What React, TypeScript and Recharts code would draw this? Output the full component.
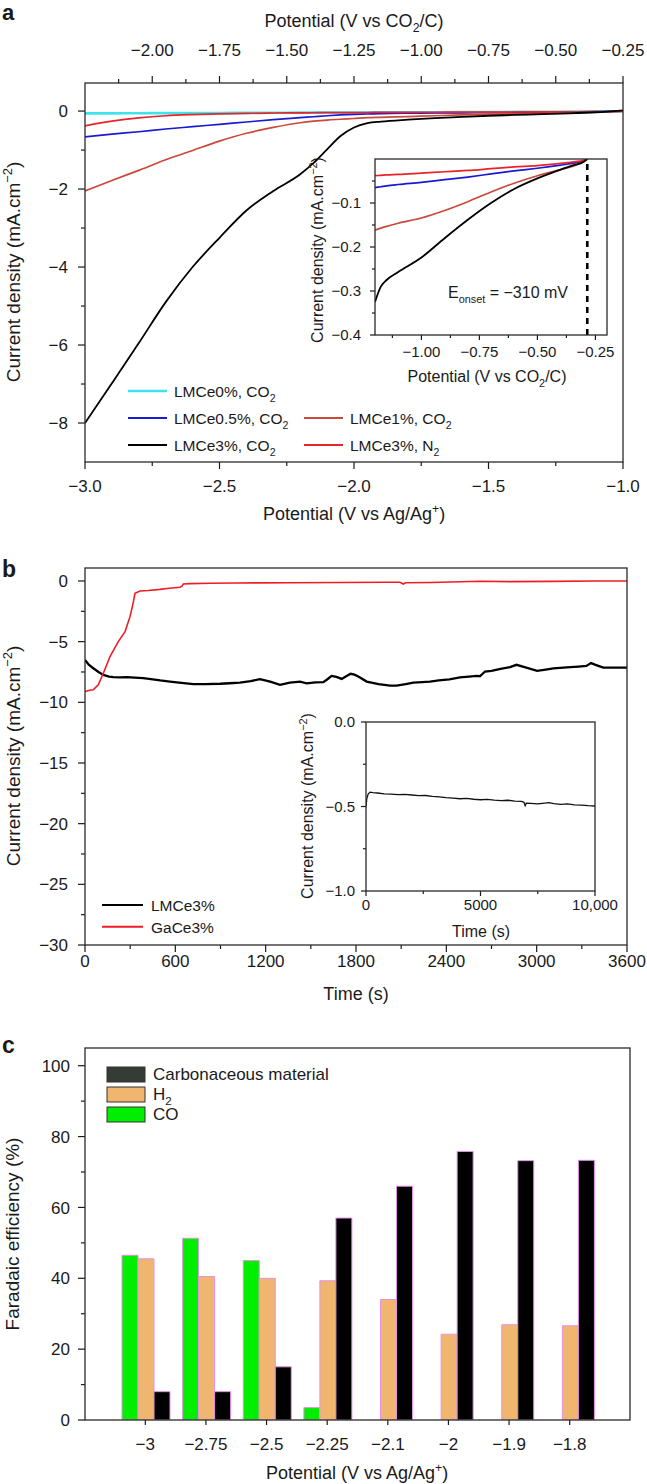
import React from "react";
import { LineChart, Line, BarChart, Bar, XAxis, YAxis, ReferenceLine } from "recharts";

// ---------- panel a : LSV curves ----------
const potentialAg = [-3.0, -2.9, -2.8, -2.7, -2.6, -2.5, -2.4, -2.3, -2.2, -2.15, -2.1, -2.05, -2.0, -1.95, -1.9, -1.8, -1.7, -1.6, -1.5, -1.4, -1.3, -1.2, -1.1, -1.0];
const lmce0Co2 = [-0.06, -0.058, -0.055, -0.052, -0.05, -0.048, -0.045, -0.043, -0.04, -0.039, -0.038, -0.037, -0.036, -0.035, -0.034, -0.032, -0.03, -0.027, -0.024, -0.021, -0.018, -0.014, -0.01, -0.005];
const lmce05Co2 = [-0.66, -0.59, -0.53, -0.46, -0.4, -0.34, -0.28, -0.22, -0.17, -0.145, -0.12, -0.1, -0.085, -0.075, -0.065, -0.055, -0.05, -0.045, -0.04, -0.035, -0.03, -0.025, -0.015, 0.0];
const lmce1Co2 = [-2.05, -1.78, -1.52, -1.25, -1.01, -0.77, -0.57, -0.42, -0.3, -0.26, -0.23, -0.21, -0.19, -0.17, -0.16, -0.14, -0.12, -0.1, -0.085, -0.07, -0.055, -0.04, -0.025, -0.01];
const lmce3N2 = [-0.38, -0.26, -0.175, -0.12, -0.09, -0.07, -0.06, -0.05, -0.045, -0.043, -0.04, -0.04, -0.038, -0.036, -0.035, -0.033, -0.03, -0.028, -0.026, -0.024, -0.022, -0.02, -0.015, -0.005];
const lmce3Co2 = [-8.0, -6.98, -5.95, -4.9, -4.0, -3.25, -2.55, -2.05, -1.62, -1.33, -0.98, -0.64, -0.42, -0.31, -0.27, -0.22, -0.18, -0.15, -0.12, -0.1, -0.08, -0.06, -0.03, 0.02];
// V vs CO2/C = V vs Ag/Ag+ + 0.75
const agToCo2 = 0.75;

const agTicks = [-3, -2.75, -2.5, -2.25, -2, -1.75, -1.5, -1.25, -1];
const agMajors = [-3, -2.5, -2, -1.5, -1];
const co2Ticks = [-2.125, -2, -1.875, -1.75, -1.625, -1.5, -1.375, -1.25, -1.125, -1, -0.875, -0.75, -0.625, -0.5, -0.375, -0.25];
const co2Majors = [-2, -1.75, -1.5, -1.25, -1, -0.75, -0.5, -0.25];
const curATicks = [0, -1, -2, -3, -4, -5, -6, -7, -8];
const curAMajors = [0, -2, -4, -6, -8];

// inset of a
const potentialCo2 = [-1.2, -1.175, -1.15, -1.1, -1.0, -0.9, -0.8, -0.7, -0.6, -0.5, -0.4, -0.35, -0.3, -0.285];
const insetCe05 = [-0.065, -0.063, -0.061, -0.058, -0.053, -0.047, -0.041, -0.034, -0.027, -0.021, -0.014, -0.01, -0.004, 0];
const insetCe1 = [-0.162, -0.157, -0.153, -0.146, -0.134, -0.117, -0.097, -0.075, -0.055, -0.038, -0.024, -0.017, -0.006, 0];
const insetN2 = [-0.038, -0.037, -0.036, -0.035, -0.032, -0.029, -0.026, -0.022, -0.018, -0.015, -0.01, -0.007, -0.003, 0];
const insetCe3 = [-0.325, -0.29, -0.275, -0.257, -0.224, -0.18, -0.138, -0.1, -0.068, -0.044, -0.024, -0.015, -0.006, 0];
const onsetPotential = -0.285;
const insetATicksX = [-1.125, -1, -0.875, -0.75, -0.625, -0.5, -0.375, -0.25];
const insetAMajorsX = [-1, -0.75, -0.5, -0.25];
const insetATicksY = [-0.05, -0.1, -0.15, -0.2, -0.25, -0.3, -0.35, -0.4];
const insetAMajorsY = [-0.1, -0.2, -0.3, -0.4];

// ---------- panel b : chronoamperometry ----------
const timeLM = [0, 25, 55, 90, 122, 160, 188, 230, 277, 330, 387, 450, 500, 564, 640, 720, 800, 897, 960, 1029, 1100, 1162, 1230, 1295, 1361, 1428, 1472, 1530, 1583, 1610, 1638, 1670, 1705, 1735, 1764, 1790, 1815, 1840, 1871, 1950, 2026, 2070, 2130, 2181, 2240, 2291, 2350, 2420, 2491, 2550, 2602, 2623, 2657, 2700, 2760, 2823, 2866, 2920, 3003, 3060, 3111, 3200, 3278, 3330, 3361, 3400, 3443, 3520, 3600];
const curLM = [-6.5, -6.9, -7.19, -7.5, -7.74, -7.88, -7.93, -7.95, -7.93, -7.96, -8.0, -8.1, -8.2, -8.29, -8.4, -8.5, -8.5, -8.47, -8.43, -8.37, -8.25, -8.09, -8.3, -8.56, -8.37, -8.29, -8.43, -8.36, -8.34, -8.1, -7.82, -7.9, -8.07, -7.85, -7.65, -7.72, -7.87, -8.05, -8.29, -8.5, -8.62, -8.62, -8.5, -8.37, -8.33, -8.29, -8.2, -8.1, -7.95, -7.88, -7.82, -7.85, -7.46, -7.4, -7.25, -7.1, -6.91, -7.1, -7.41, -7.3, -7.2, -7.12, -7.05, -7.0, -6.77, -6.95, -7.14, -7.14, -7.14];
const timeGa = [0, 30, 55, 88, 122, 166, 221, 266, 299, 320, 332, 365, 420, 498, 560, 631, 645, 653, 700, 830, 1000, 1361, 1700, 2000, 2092, 2114, 2130, 2300, 2623, 2823, 3100, 3400, 3600];
const curGa = [-9.11, -9.0, -8.97, -8.56, -7.6, -6.23, -5.0, -4.17, -2.94, -1.8, -1.01, -0.82, -0.78, -0.69, -0.6, -0.52, -0.4, -0.25, -0.22, -0.19, -0.17, -0.14, -0.12, -0.1, -0.1, -0.25, -0.14, -0.12, -0.02, -0.05, -0.03, 0.0, 0.0];
const timeTicks = [0, 300, 600, 900, 1200, 1500, 1800, 2100, 2400, 2700, 3000, 3300, 3600];
const timeMajors = [0, 600, 1200, 1800, 2400, 3000, 3600];
const curBTicks = [0, -2.5, -5, -7.5, -10, -12.5, -15, -17.5, -20, -22.5, -25, -27.5, -30];
const curBMajors = [0, -5, -10, -15, -20, -25, -30];

// inset of b
const timeLong = [0, 40, 100, 180, 300, 500, 800, 1100, 1400, 1700, 2000, 2300, 2600, 2900, 3200, 3500, 3800, 4100, 4400, 4700, 5000, 5300, 5600, 5900, 6200, 6500, 6800, 6900, 6950, 7000, 7200, 7500, 7800, 8000, 8200, 8500, 8800, 9100, 9400, 9700, 10000];
const curLong = [-0.5, -0.45, -0.425, -0.415, -0.418, -0.42, -0.425, -0.427, -0.43, -0.428, -0.432, -0.436, -0.435, -0.44, -0.443, -0.447, -0.45, -0.454, -0.452, -0.457, -0.46, -0.458, -0.462, -0.465, -0.463, -0.468, -0.47, -0.475, -0.495, -0.48, -0.482, -0.485, -0.48, -0.477, -0.483, -0.487, -0.485, -0.49, -0.492, -0.495, -0.497];
const longTicks = [0, 2500, 5000, 7500, 10000];
const longMajors = [0, 5000, 10000];
const curLongTicks = [0, -0.25, -0.5, -0.75, -1];
const curLongMajors = [0, -0.5, -1];

// ---------- panel c : faradaic efficiency ----------
const potentialC = ["\u22123", "\u22122.75", "\u22122.5", "\u22122.25", "\u22122.1", "\u22122", "\u22121.9", "\u22121.8"];
const feCO = [46.5, 51.3, 45, 3.5, 0, 0, 0, 0];
const feH2 = [45.5, 40.5, 40, 39.3, 34, 24.2, 26.9, 26.6];
const feCarbon = [8, 8, 15, 57, 66, 75.8, 73.2, 73.3];
const feTicks = [0, 10, 20, 30, 40, 50, 60, 70, 80, 90, 100];
const feMajors = [0, 20, 40, 60, 80, 100];

// ---------- styling ----------
const FONT = '"Liberation Sans", Arial, Helvetica, sans-serif';
const INK = "#1a1a1a";
const C_CYAN = "#3fe3ea";
const C_BLUE = "#1a1ad2";
const C_BRICK = "#c94a3a";
const C_RED = "#e8232a";
const C_BLACK = "#000000";

const pts = (xs: number[], ys: number[]) => xs.map((x, i) => ({ x, y: ys[i] }));
const minus = (s: string) => s.replace("-", "\u2212");

type TickCfg = {
  side: "left" | "bottom" | "top";
  majors: (number | string)[];
  len: number;
  minorLen: number;
  gap: number;
  size: number;
  fmt: (v: any) => string;
};

// axes are 1px thick with tickSize 0, so (x, y) of a tick is on the plot edge
const makeTick = (c: TickCfg) => (p: any) => {
  const { x, y, payload } = p;
  const v = payload.value;
  const major = c.majors.some((m) => (typeof m === "number" ? Math.abs(m - v) < 1e-6 : m === v));
  const L = major ? c.len : c.minorLen;
  const txt = { fontSize: c.size, fontFamily: FONT, fill: INK };
  if (c.side === "left") {
    return (
      <g>
        <line x1={x - L} x2={x} y1={y} y2={y} stroke={INK} strokeWidth={1.2} />
        {major && (
          <text x={x - c.gap} y={y} dy="0.36em" textAnchor="end" {...txt}>
            {c.fmt(v)}
          </text>
        )}
      </g>
    );
  }
  if (c.side === "top") {
    return (
      <g>
        <line x1={x} x2={x} y1={y - L} y2={y} stroke={INK} strokeWidth={1.2} />
        {major && (
          <text x={x} y={y - c.gap} textAnchor="middle" {...txt}>
            {c.fmt(v)}
          </text>
        )}
      </g>
    );
  }
  return (
    <g>
      <line x1={x} x2={x} y1={y} y2={y + L} stroke={INK} strokeWidth={1.2} />
      {major && (
        <text x={x} y={y + c.gap} textAnchor="middle" {...txt}>
          {c.fmt(v)}
        </text>
      )}
    </g>
  );
};

// text with _{sub} and ^{sup}
function Rich({ s, fs }: { s: string; fs: number }) {
  const parts = s.split(/(_\{[^}]*\}|\^\{[^}]*\})/).filter(Boolean);
  let shift = 0;
  return (
    <>
      {parts.map((p, i) => {
        if (p.startsWith("_{")) {
          const d = 0.3 * fs - shift;
          shift = 0.3 * fs;
          return <tspan key={i} dy={d} fontSize={fs * 0.68}>{p.slice(2, -1)}</tspan>;
        }
        if (p.startsWith("^{")) {
          const d = -0.4 * fs - shift;
          shift = -0.4 * fs;
          return <tspan key={i} dy={d} fontSize={fs * 0.68}>{p.slice(2, -1)}</tspan>;
        }
        const d = -shift;
        shift = 0;
        return <tspan key={i} dy={d}>{p}</tspan>;
      })}
    </>
  );
}

function Txt({ x, y, s, fs, anchor = "start", rotate = false, bold = false }: any) {
  return (
    <text
      x={rotate ? 0 : x}
      y={rotate ? 0 : y}
      transform={rotate ? `translate(${x},${y}) rotate(-90)` : undefined}
      textAnchor={anchor}
      fontSize={fs}
      fontFamily={FONT}
      fontWeight={bold ? "bold" : "normal"}
      fill={INK}
    >
      <Rich s={s} fs={fs} />
    </text>
  );
}

const seriesA = [
  { name: "LMCe0%, CO_{2}", color: C_CYAN, width: 2.6, main: lmce0Co2, inset: null as number[] | null },
  { name: "LMCe0.5%, CO_{2}", color: C_BLUE, width: 1.7, main: lmce05Co2, inset: insetCe05 },
  { name: "LMCe1%, CO_{2}", color: C_BRICK, width: 1.7, main: lmce1Co2, inset: insetCe1 },
  { name: "LMCe3%, N_{2}", color: C_RED, width: 1.7, main: lmce3N2, inset: insetN2 },
  { name: "LMCe3%, CO_{2}", color: C_BLACK, width: 1.8, main: lmce3Co2, inset: insetCe3 },
];
// legend slot (column, row) for each entry of seriesA
const legendSlotsA = [[0, 0], [0, 1], [1, 1], [1, 2], [0, 2]];

const seriesB = [
  { name: "LMCe3%", color: C_BLACK, width: 2.3, t: timeLM, v: curLM },
  { name: "GaCe3%", color: "#ee1c25", width: 1.6, t: timeGa, v: curGa },
];

const barsC = [
  { key: "co", name: "CO", color: "#00ee00", values: feCO },
  { key: "h2", name: "H_{2}", color: "#f0b56f", values: feH2 },
  { key: "carbon", name: "Carbonaceous material", color: "#000000", values: feCarbon },
];
const legendC = [
  { name: "Carbonaceous material", color: "#353b35" },
  { name: "H_{2}", color: "#f0b56f" },
  { name: "CO", color: "#00ee00" },
];
const rowsC = potentialC.map((p, i) => {
  const r: any = { p };
  barsC.forEach((b) => (r[b.key] = b.values[i]));
  return r;
});

const frames = [
  [85, 83, 623, 462],
  [375, 159, 607, 335],
  [85, 568, 627, 945],
  [366, 722, 595, 891],
  [85, 1048, 630, 1420],
];

const box = (top: number, left: number): React.CSSProperties => ({ position: "absolute", top, left });
const AX = { tickSize: 0, tickMargin: 0, axisLine: false, tickLine: false, interval: 0 as const };

export default function App() {
  return (
    <div style={{ position: "absolute", top: 0, left: 0, width: 647, height: 1484, background: "#fff", fontFamily: FONT }}>
      {/* panel a main: plot 85..623 x 83..462 */}
      <div style={box(0, 0)}>
        <LineChart width={647} height={540} margin={{ top: 82, left: 84, right: 24, bottom: 77 }}>
          <XAxis xAxisId="ag" dataKey="x" type="number" domain={[-3, -1]} allowDataOverflow ticks={agTicks} height={1} {...AX}
            tick={makeTick({ side: "bottom", majors: agMajors, len: 7, minorLen: 4, gap: 30, size: 17, fmt: (v) => minus(v.toFixed(1)) })} />
          <XAxis xAxisId="co2" orientation="top" dataKey="x" type="number" domain={[-2.25, -0.25]} allowDataOverflow ticks={co2Ticks} height={1} {...AX}
            tick={makeTick({ side: "top", majors: co2Majors, len: 7, minorLen: 4, gap: 27, size: 17, fmt: (v) => minus(v.toFixed(2)) })} />
          <YAxis type="number" domain={[-9, 0.72]} allowDataOverflow ticks={curATicks} width={1} {...AX}
            tick={makeTick({ side: "left", majors: curAMajors, len: 7, minorLen: 4, gap: 17, size: 17, fmt: (v) => minus(String(v)) })} />
          {seriesA.map((s, i) =>
            i === 0 ? (
              // LMCe0% is drawn against the CO2/C scale (top axis)
              <Line key={s.name} xAxisId="co2" data={pts(potentialAg.map((v) => v + agToCo2), s.main)} dataKey="y" type="monotone"
                stroke={s.color} strokeWidth={s.width} dot={false} isAnimationActive={false} />
            ) : (
              <Line key={s.name} xAxisId="ag" data={pts(potentialAg, s.main)} dataKey="y" type="monotone"
                stroke={s.color} strokeWidth={s.width} dot={false} isAnimationActive={false} />
            )
          )}
        </LineChart>
      </div>

      {/* panel a inset: plot 375..607 x 159..335 */}
      <div style={box(140, 300)}>
        <LineChart width={330} height={240} margin={{ top: 19, left: 74, right: 23, bottom: 44 }}>
          <XAxis dataKey="x" type="number" domain={[-1.2, -0.2]} allowDataOverflow ticks={insetATicksX} height={1} {...AX}
            tick={makeTick({ side: "bottom", majors: insetAMajorsX, len: 5, minorLen: 3, gap: 22, size: 15, fmt: (v) => minus(v.toFixed(2)) })} />
          <YAxis type="number" domain={[-0.4, 0]} allowDataOverflow ticks={insetATicksY} width={1} {...AX}
            tick={makeTick({ side: "left", majors: insetAMajorsY, len: 5, minorLen: 3, gap: 14, size: 15, fmt: (v) => minus(v.toFixed(1)) })} />
          <ReferenceLine x={onsetPotential} stroke="#000" strokeWidth={2.6} strokeDasharray="6 5" />
          {seriesA.filter((s) => s.inset).map((s) => (
            <Line key={s.name} data={pts(potentialCo2, s.inset as number[])} dataKey="y" type="monotone"
              stroke={s.color} strokeWidth={s.width} dot={false} isAnimationActive={false} />
          ))}
        </LineChart>
      </div>

      {/* panel b main: plot 85..627 x 568..945 */}
      <div style={box(540, 0)}>
        <LineChart width={647} height={440} margin={{ top: 28, left: 84, right: 20, bottom: 34 }}>
          <XAxis dataKey="x" type="number" domain={[0, 3600]} allowDataOverflow ticks={timeTicks} height={1} {...AX}
            tick={makeTick({ side: "bottom", majors: timeMajors, len: 7, minorLen: 4, gap: 22, size: 17, fmt: (v) => String(v) })} />
          <YAxis type="number" domain={[-30, 1.07]} allowDataOverflow ticks={curBTicks} width={1} {...AX}
            tick={makeTick({ side: "left", majors: curBMajors, len: 7, minorLen: 4, gap: 17, size: 17, fmt: (v) => minus(String(v)) })} />
          {seriesB.map((s) => (
            <Line key={s.name} data={pts(s.t, s.v)} dataKey="y" type="linear"
              stroke={s.color} strokeWidth={s.width} dot={false} isAnimationActive={false} />
          ))}
        </LineChart>
      </div>

      {/* panel b inset: plot 366..595 x 722..891 */}
      <div style={box(700, 290)}>
        <LineChart width={330} height={230} margin={{ top: 22, left: 75, right: 25, bottom: 38 }}>
          <XAxis dataKey="x" type="number" domain={[0, 10000]} allowDataOverflow ticks={longTicks} height={1} {...AX}
            tick={makeTick({ side: "bottom", majors: longMajors, len: 5, minorLen: 3, gap: 19, size: 15, fmt: (v) => (v === 10000 ? "10,000" : String(v)) })} />
          <YAxis type="number" domain={[-1, 0]} allowDataOverflow ticks={curLongTicks} width={1} {...AX}
            tick={makeTick({ side: "left", majors: curLongMajors, len: 5, minorLen: 3, gap: 11, size: 15, fmt: (v) => minus(v.toFixed(1)) })} />
          <Line data={pts(timeLong, curLong)} dataKey="y" type="linear" stroke="#111" strokeWidth={1.3}
            dot={false} isAnimationActive={false} />
        </LineChart>
      </div>

      {/* panel c: plot 85..630 x 1048..1420 */}
      <div style={box(1000, 0)}>
        <BarChart width={647} height={484} data={rowsC} margin={{ top: 48, left: 84, right: 17, bottom: 63 }}
          barCategoryGap={7} barGap={0}>
          <XAxis dataKey="p" type="category" padding={{ left: 30, right: 30 }} height={1} {...AX}
            tick={makeTick({ side: "bottom", majors: potentialC, len: 5, minorLen: 5, gap: 30, size: 17, fmt: (v) => v })} />
          <YAxis type="number" domain={[0, 105]} allowDataOverflow ticks={feTicks} width={1} {...AX}
            tick={makeTick({ side: "left", majors: feMajors, len: 7, minorLen: 4, gap: 15, size: 17, fmt: (v) => String(v) })} />
          {barsC.map((b) => (
            <Bar key={b.key} dataKey={b.key} fill={b.color} stroke="#e591e5" strokeWidth={1} isAnimationActive={false} />
          ))}
        </BarChart>
      </div>

      {/* frames, titles, legends */}
      <svg width={647} height={1484} style={{ position: "absolute", top: 0, left: 0, pointerEvents: "none" }}>
        {frames.map(([x1, y1, x2, y2], i) => (
          <rect key={i} x={x1} y={y1} width={x2 - x1} height={y2 - y1} fill="none" stroke="#2a2a2a" strokeWidth={1.3} />
        ))}

        {/* panel a */}
        <Txt x={2} y={20} s="a" fs={22} bold />
        <Txt x={354} y={27} s="Potential (V vs CO_{2}/C)" fs={18} anchor="middle" />
        <Txt x={354} y={520} s="Potential (V vs Ag/Ag^{+})" fs={18} anchor="middle" />
        <Txt x={20} y={272} s="Current density (mA.cm^{−2})" fs={19} anchor="middle" rotate />
        <Txt x={487} y={382} s="Potential (V vs CO_{2}/C)" fs={16} anchor="middle" />
        <Txt x={323} y={250} s="Current density (mA.cm^{−2})" fs={16} anchor="middle" rotate />
        <Txt x={448} y={298} s="E_{onset} = −310 mV" fs={16} />
        {seriesA.map((s, i) => {
          const [col, row] = legendSlotsA[i];
          const lx = col === 0 ? 128 : 304;
          const ly = 391 + row * 27;
          return (
            <g key={s.name}>
              <line x1={lx} x2={lx + 39} y1={ly} y2={ly} stroke={s.color} strokeWidth={Math.max(s.width, 2)} />
              <Txt x={lx + 46} y={ly + 6} s={s.name} fs={15.5} />
            </g>
          );
        })}

        {/* panel b */}
        <Txt x={2} y={577} s="b" fs={23} bold />
        <Txt x={356} y={1000} s="Time (s)" fs={18} anchor="middle" />
        <Txt x={20} y={756} s="Current density (mA.cm^{−2})" fs={19} anchor="middle" rotate />
        <Txt x={481} y={937} s="Time (s)" fs={16} anchor="middle" />
        <Txt x={313} y={806} s="Current density (mA.cm^{−2})" fs={16} anchor="middle" rotate />
        {seriesB.map((s, i) => {
          const ly = 905 + i * 21.7;
          return (
            <g key={s.name}>
              <line x1={102} x2={143} y1={ly} y2={ly} stroke={s.color} strokeWidth={2} />
              <Txt x={151} y={ly + 6} s={s.name} fs={15.5} />
            </g>
          );
        })}

        {/* panel c */}
        <Txt x={2} y={1053} s="c" fs={23} bold />
        <Txt x={357} y={1479} s="Potential (V vs Ag/Ag^{+})" fs={18} anchor="middle" />
        <Txt x={19} y={1234} s="Faradaic efficiency (%)" fs={19} anchor="middle" rotate />
        {legendC.map((l, i) => {
          const ty = 1067 + i * 20;
          return (
            <g key={l.name}>
              <rect x={107} y={ty} width={38} height={15} fill={l.color} stroke="#333" strokeWidth={1} />
              <Txt x={153} y={ty + 13} s={l.name} fs={17} />
            </g>
          );
        })}
      </svg>
    </div>
  );
}
